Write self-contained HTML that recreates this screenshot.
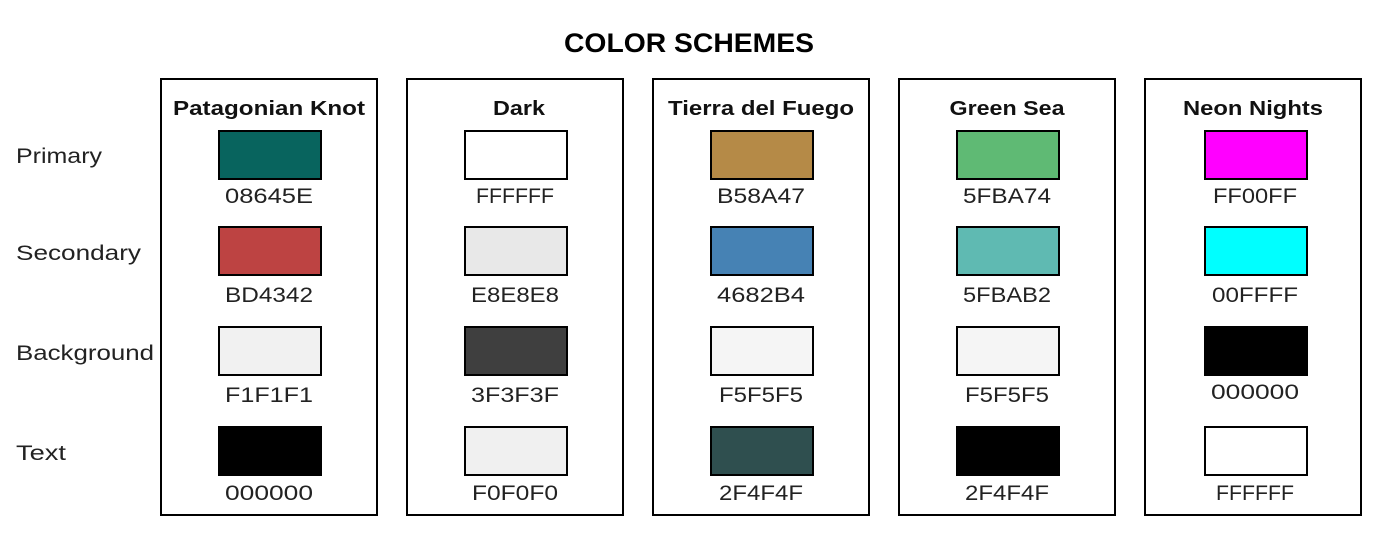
<!DOCTYPE html>
<html><head><meta charset="utf-8"><style>html,body{margin:0;padding:0;background:#fff}svg{display:block}</style></head>
<body>
<svg width="1378" height="536" xmlns="http://www.w3.org/2000/svg" font-family="Liberation Sans, sans-serif">
<text x="689" y="52" text-anchor="middle" font-weight="bold" font-size="27" textLength="250" lengthAdjust="spacingAndGlyphs">COLOR SCHEMES</text>
<g font-size="21" fill="#222">
<text x="16" y="163" textLength="86" lengthAdjust="spacingAndGlyphs">Primary</text>
<text x="16" y="260" textLength="125" lengthAdjust="spacingAndGlyphs">Secondary</text>
<text x="16" y="360" textLength="138" lengthAdjust="spacingAndGlyphs">Background</text>
<text x="16" y="460" textLength="50" lengthAdjust="spacingAndGlyphs">Text</text>
</g>
<g fill="none" stroke="#000" stroke-width="2">
<rect x="161" y="79" width="216" height="436"/>
<rect x="407" y="79" width="216" height="436"/>
<rect x="653" y="79" width="216" height="436"/>
<rect x="899" y="79" width="216" height="436"/>
<rect x="1145" y="79" width="216" height="436"/>
</g>
<g font-weight="bold" font-size="20" text-anchor="middle" fill="#111">
<text x="269" y="115" textLength="192" lengthAdjust="spacingAndGlyphs">Patagonian Knot</text>
<text x="519" y="115" textLength="52" lengthAdjust="spacingAndGlyphs">Dark</text>
<text x="761" y="115" textLength="186" lengthAdjust="spacingAndGlyphs">Tierra del Fuego</text>
<text x="1007" y="115" textLength="115" lengthAdjust="spacingAndGlyphs">Green Sea</text>
<text x="1253" y="115" textLength="140" lengthAdjust="spacingAndGlyphs">Neon Nights</text>
</g>
<g stroke="#000" stroke-width="2">
<rect x="219" y="131" width="102" height="48" fill="#08645E"/>
<rect x="219" y="227" width="102" height="48" fill="#BD4342"/>
<rect x="219" y="327" width="102" height="48" fill="#F1F1F1"/>
<rect x="219" y="427" width="102" height="48" fill="#000000"/>
<rect x="465" y="131" width="102" height="48" fill="#FFFFFF"/>
<rect x="465" y="227" width="102" height="48" fill="#E8E8E8"/>
<rect x="465" y="327" width="102" height="48" fill="#3F3F3F"/>
<rect x="465" y="427" width="102" height="48" fill="#F0F0F0"/>
<rect x="711" y="131" width="102" height="48" fill="#B58A47"/>
<rect x="711" y="227" width="102" height="48" fill="#4682B4"/>
<rect x="711" y="327" width="102" height="48" fill="#F5F5F5"/>
<rect x="711" y="427" width="102" height="48" fill="#2F4F4F"/>
<rect x="957" y="131" width="102" height="48" fill="#5FBA74"/>
<rect x="957" y="227" width="102" height="48" fill="#5FBAB2"/>
<rect x="957" y="327" width="102" height="48" fill="#F5F5F5"/>
<rect x="957" y="427" width="102" height="48" fill="#000000"/>
<rect x="1205" y="131" width="102" height="48" fill="#FF00FF"/>
<rect x="1205" y="227" width="102" height="48" fill="#00FFFF"/>
<rect x="1204" y="326" width="104" height="50" fill="#000000" stroke="none"/>
<rect x="1205" y="427" width="102" height="48" fill="#FFFFFF"/>
</g>
<g font-size="21" text-anchor="middle" fill="#222">
<text x="269" y="203" textLength="88" lengthAdjust="spacingAndGlyphs">08645E</text><text x="269" y="302" textLength="88" lengthAdjust="spacingAndGlyphs">BD4342</text><text x="269" y="402" textLength="88" lengthAdjust="spacingAndGlyphs">F1F1F1</text><text x="269" y="500" textLength="88" lengthAdjust="spacingAndGlyphs">000000</text>
<text x="515" y="203" textLength="78" lengthAdjust="spacingAndGlyphs">FFFFFF</text><text x="515" y="302" textLength="88" lengthAdjust="spacingAndGlyphs">E8E8E8</text><text x="515" y="402" textLength="88" lengthAdjust="spacingAndGlyphs">3F3F3F</text><text x="515" y="500" textLength="86" lengthAdjust="spacingAndGlyphs">F0F0F0</text>
<text x="761" y="203" textLength="88" lengthAdjust="spacingAndGlyphs">B58A47</text><text x="761" y="302" textLength="88" lengthAdjust="spacingAndGlyphs">4682B4</text><text x="761" y="402" textLength="84" lengthAdjust="spacingAndGlyphs">F5F5F5</text><text x="761" y="500" textLength="84" lengthAdjust="spacingAndGlyphs">2F4F4F</text>
<text x="1007" y="203" textLength="88" lengthAdjust="spacingAndGlyphs">5FBA74</text><text x="1007" y="302" textLength="88" lengthAdjust="spacingAndGlyphs">5FBAB2</text><text x="1007" y="402" textLength="84" lengthAdjust="spacingAndGlyphs">F5F5F5</text><text x="1007" y="500" textLength="84" lengthAdjust="spacingAndGlyphs">2F4F4F</text>
<text x="1255" y="203" textLength="84" lengthAdjust="spacingAndGlyphs">FF00FF</text><text x="1255" y="302" textLength="86" lengthAdjust="spacingAndGlyphs">00FFFF</text><text x="1255" y="399" textLength="88" lengthAdjust="spacingAndGlyphs">000000</text><text x="1255" y="500" textLength="78" lengthAdjust="spacingAndGlyphs">FFFFFF</text>
</g>
</svg>
</body></html>
